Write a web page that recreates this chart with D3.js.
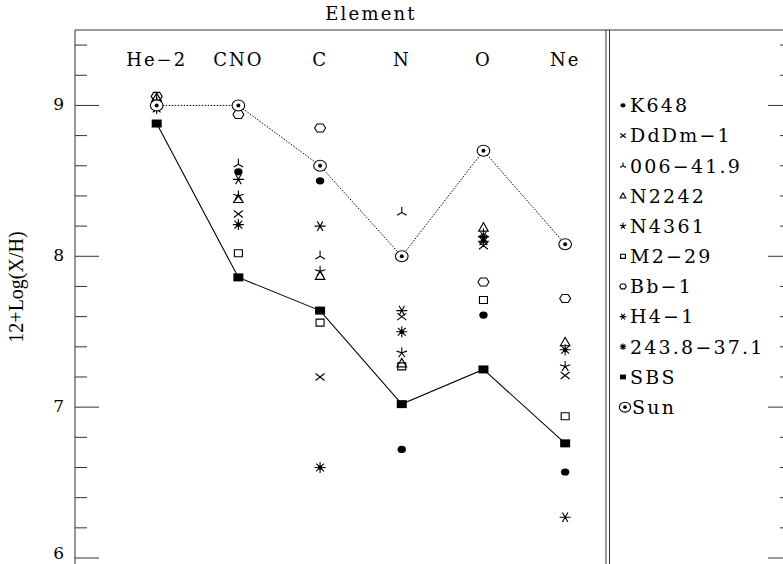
<!DOCTYPE html>
<html>
<head>
<meta charset="utf-8">
<script src="https://cdn.jsdelivr.net/npm/d3@7"></script>
<style>
body { margin: 0; background: #fff; }
text { font-family: 'DejaVu Serif', serif; fill: #000; }
</style>
</head>
<body>
<div class="chart"></div>
<script>

// element columns along the top
const elements = ['He−2', 'CNO', 'C', 'N', 'O', 'Ne'];

// abundances 12+log(X/H), one value per element (null = not shown)
const k648    = [8.99, 8.56, 8.50, 6.72, 7.61, 6.57];
const dddm1   = [9.02, 8.28, 7.20, 7.60, 8.07, 7.21];
const n006    = [9.04, 8.61, 8.00, 8.29, 8.15, null];
const n2242   = [9.05, 8.38, 7.87, 7.29, 8.19, 7.43];
const n4361   = [9.02, 8.40, 7.90, 7.36, 8.12, 7.27];
const m229    = [9.00, 8.02, 7.56, 7.27, 7.71, 6.94];
const bb1     = [9.06, 8.94, 8.85, null, 7.83, 7.72];
const h41     = [8.99, 8.51, 8.20, 7.64, 8.13, 6.27];
const n243    = [8.98, 8.21, 6.60, 7.50, 8.10, 7.38];
const sbs     = [8.88, 7.86, 7.64, 7.02, 7.25, 6.76];
const sun     = [9.00, 9.00, 8.60, 8.00, 8.70, 8.08];

const names   = ['K648', 'DdDm−1', '006−41.9', 'N2242', 'N4361', 'M2−29', 'Bb−1', 'H4−1', '243.8−37.1', 'SBS', 'Sun'];
const symbols = ['dot', 'cross', 'tripod', 'triangle', 'star5', 'square', 'hexagon', 'star6', 'burst', 'fsquare', 'sun'];
const values  = [k648, dddm1, n006, n2242, n4361, m229, bb1, h41, n243, sbs, sun];

const yTicks = [6, 7, 8, 9];

const width = 783;
const height = 564;

const svg = d3.select('.chart').append('svg')
	.attr('width', width)
	.attr('height', height);

const x = d3.scaleLinear().domain([0, 6.5]).range([75, 606]);
const y = d3.scaleLinear().domain([6, 9.5]).range([558, 30]);
const rightEdge = 792;

// frame
const frame = svg.append('g').attr('stroke', '#333').attr('stroke-width', 1).attr('fill', 'none');
frame.append('line').attr('x1', x(0)).attr('x2', rightEdge).attr('y1', y(9.5)).attr('y2', y(9.5));
frame.append('line').attr('x1', x(0)).attr('x2', x(0)).attr('y1', y(9.5)).attr('y2', height + 5);
frame.append('line').attr('x1', x(6.5)).attr('x2', x(6.5)).attr('y1', y(9.5)).attr('y2', height + 5);
frame.append('line').attr('x1', x(6.5) + 3.5).attr('x2', x(6.5) + 3.5).attr('y1', y(9.5)).attr('y2', height + 5);

// ticks, left side and right side
const minor = d3.range(6, 9.5, 0.2).map(d => +d.toFixed(1));
function tickLen(d) {
	return yTicks.includes(d) ? 24 : 12;
}
svg.selectAll('.ltick')
	.data(minor)
	.enter()
	.append('line')
	.attr('x1', x(0))
	.attr('x2', d => x(0) + tickLen(d))
	.attr('y1', d => y(d))
	.attr('y2', d => y(d))
	.attr('stroke', '#333')
	.attr('class', 'ltick');
svg.selectAll('.rtick')
	.data(minor)
	.enter()
	.append('line')
	.attr('x1', rightEdge)
	.attr('x2', d => rightEdge - tickLen(d))
	.attr('y1', d => y(d))
	.attr('y2', d => y(d))
	.attr('stroke', '#333')
	.attr('class', 'rtick');

// tick labels; the lowest one is kept inside the page
svg.selectAll('.ylab')
	.data(yTicks)
	.enter()
	.append('text')
	.text(d => d)
	.attr('x', 64)
	.attr('y', d => Math.min(y(d) + 5, height - 5))
	.attr('text-anchor', 'end')
	.style('font-size', '17px')
	.attr('class', 'ylab');

svg.append('text')
	.text('12+Log(X/H)')
	.attr('transform', `translate(23, 287) rotate(-90)`)
	.attr('text-anchor', 'middle')
	.style('font-family', "'Liberation Serif', serif")
	.style('font-size', '20px');

svg.append('text')
	.text('Element')
	.attr('x', 371)
	.attr('y', 20)
	.attr('text-anchor', 'middle')
	.style('font-size', '18px')
	.style('letter-spacing', '2.2px');

svg.selectAll('.elab')
	.data(elements)
	.enter()
	.append('text')
	.text(d => d)
	.attr('x', (d, i) => x(i + 1))
	.attr('y', 66)
	.attr('text-anchor', 'middle')
	.style('font-size', '18px')
	.style('letter-spacing', '2px')
	.attr('class', 'elab');

// marker shapes, s = scale
function symbolPath(type, s) {
	const p = d3.path();
	function arms(angles, r) {
		angles.forEach(a => {
			const t = a * Math.PI / 180;
			p.moveTo(0, 0);
			p.lineTo(r * s * Math.cos(t), r * s * Math.sin(t));
		});
	}
	if (type === 'cross') {
		p.moveTo(-4.5 * s, -3.5 * s); p.lineTo(4.5 * s, 3.5 * s);
		p.moveTo(-4.5 * s, 3.5 * s); p.lineTo(4.5 * s, -3.5 * s);
	} else if (type === 'tripod') {
		arms([-90, 30, 150], 5.5);
	} else if (type === 'triangle') {
		p.moveTo(0, -5 * s); p.lineTo(4.8 * s, 3.5 * s); p.lineTo(-4.8 * s, 3.5 * s); p.closePath();
	} else if (type === 'star5') {
		arms([-90, -18, 54, 126, 198], 5.5);
	} else if (type === 'star6') {
		arms([0, 60, 120, 180, 240, 300], 5.5);
	} else if (type === 'burst') {
		arms([0, 45, 90, 135, 180, 225, 270, 315], 5.5);
	} else if (type === 'square') {
		p.rect(-4 * s, -3.5 * s, 8 * s, 7 * s);
	} else if (type === 'hexagon') {
		p.moveTo(-5.5 * s, 0); p.lineTo(-3 * s, -4 * s); p.lineTo(3 * s, -4 * s);
		p.lineTo(5.5 * s, 0); p.lineTo(3 * s, 4 * s); p.lineTo(-3 * s, 4 * s); p.closePath();
	}
	return p.toString();
}

function drawMarker(g, type, s) {
	if (type === 'dot') {
		g.append('ellipse').attr('rx', 4.2 * s).attr('ry', 3.6 * s).attr('fill', '#000');
	} else if (type === 'fsquare') {
		g.append('rect').attr('x', -5 * s).attr('y', -4 * s).attr('width', 10 * s).attr('height', 8 * s).attr('fill', '#000');
	} else if (type === 'sun') {
		g.append('ellipse').attr('rx', 6.3 * s).attr('ry', 5.5 * s).attr('fill', '#fff').attr('stroke', '#000').attr('stroke-width', 1.1);
		g.append('circle').attr('r', 2 * s).attr('fill', '#000');
	} else {
		g.append('path')
			.attr('d', symbolPath(type, s))
			.attr('fill', 'none')
			.attr('stroke', '#000')
			.attr('stroke-width', 1.1);
		if (type === 'burst') {
			g.append('circle').attr('r', 2.3 * s).attr('fill', '#000');
		}
	}
}

// connecting lines for SBS and Sun
const line = d3.line()
	.x((d, i) => x(i + 1))
	.y(d => y(d));
svg.append('path')
	.datum(sun)
	.attr('d', line)
	.attr('fill', 'none')
	.attr('stroke', '#000')
	.attr('stroke-width', 1)
	.attr('stroke-dasharray', '1.5,1.5');
svg.append('path')
	.datum(sbs)
	.attr('d', line)
	.attr('fill', 'none')
	.attr('stroke', '#000')
	.attr('stroke-width', 1.1);

// points
values.forEach((vals, k) => {
	vals.forEach((v, i) => {
		if (v === null) return;
		const g = svg.append('g').attr('transform', `translate(${x(i + 1)},${y(v)})`);
		drawMarker(g, symbols[k], 1);
	});
});

// legend in the right panel, one row per 0.2 dex
names.forEach((name, k) => {
	const yy = y(9 - 0.2 * k);
	const g = svg.append('g').attr('transform', `translate(${k === 10 ? 625 : 623},${yy})`);
	drawMarker(g, symbols[k], k === 10 ? 0.9 : 0.6);
	svg.append('text')
		.text(name)
		.attr('x', k === 10 ? 632 : 630)
		.attr('y', yy)
		.attr('dy', '0.36em')
		.style('font-size', '19px')
		.style('letter-spacing', '2.2px');
});

</script>
</body>
</html>
